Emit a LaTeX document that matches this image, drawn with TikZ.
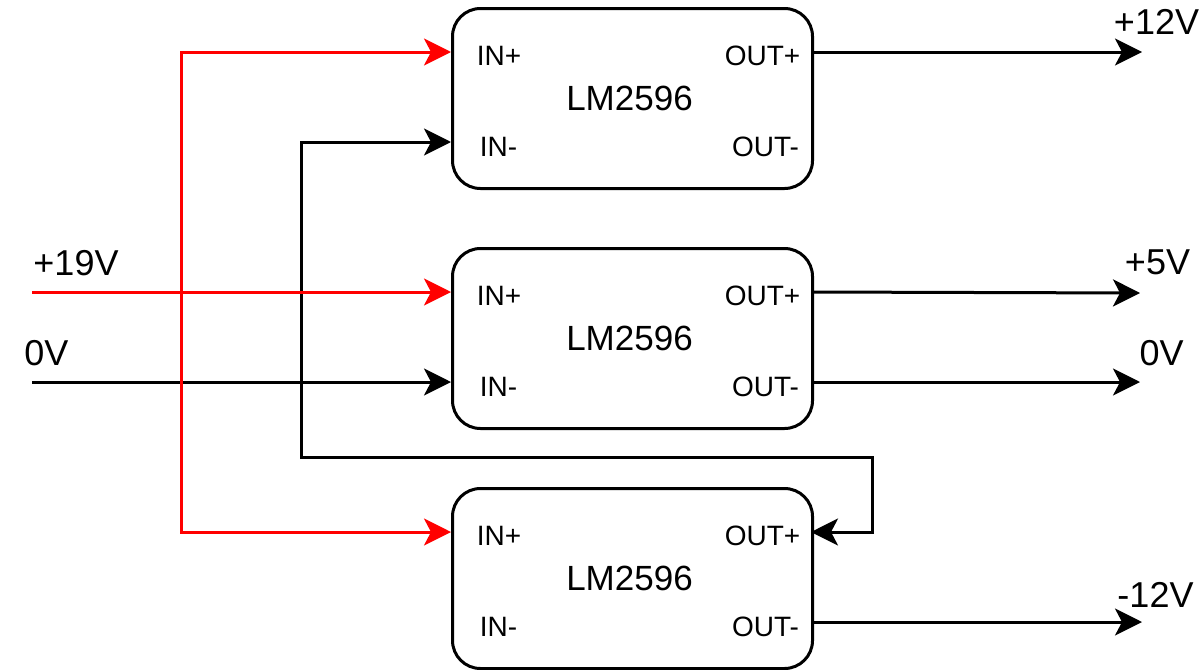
\documentclass[tikz,border=0pt]{standalone}
\usepackage{fontspec}
\setmainfont{Liberation Sans}
\usetikzlibrary{arrows.meta,positioning}

\begin{document}
\begin{tikzpicture}[
			x=0.5pt, y=-0.5pt,
			>={Stealth[length=13.5pt,width=13.5pt,inset=3.5pt]},
			wire/.style={line width=1.5pt, ->},
			hotwire/.style={wire, draw=red, color=red},
			module/.style={draw, line width=1.5pt, rounded corners=14pt, minimum width=180pt, minimum height=90pt, inner sep=0pt, anchor=north west},
			port/.style={font={\fontsize{14}{16}\selectfont}, inner sep=0pt, anchor=base},
			chip/.style={font={\fontsize{17.5}{20}\selectfont}, inner sep=0pt, anchor=base},
			rail/.style={font={\fontsize{18}{21}\selectfont}, inner sep=0pt, anchor=base}
	]
	\useasboundingbox (0,0) rectangle (1203,669);

	% three regulators
	\foreach \i/\t in {1/7, 2/247, 3/487} {
		\node[module] (b\i) at (451,\t) {};
		\node[chip] (lm\i) at (629.5,\t+103) {LM2596};
		\node[port] (inp\i) at (499,\t+58.7) {IN+};
		\node[port] (inn\i) at (498.5,\t+149) {IN-};
		\node[port] (outp\i) at (762.5,\t+58.7) {OUT+};
		\node[port] (outn\i) at (765.5,\t+149) {OUT-};
		\coordinate (b\i-inp) at (451,\t+45);
		\coordinate (b\i-inn) at (451,\t+135);
		\coordinate (b\i-outp) at (811,\t+45);
		\coordinate (b\i-outn) at (811,\t+135);
	}

	% supply side
	\node[rail] (v19) at (76,275) {+19V};
	\node[rail] (gnd) at (46.5,365) {0V};
	\coordinate (in19) at (32,292);
	\coordinate (in0) at (32,382);
	\coordinate (j19) at (181,292);
	\coordinate (j0) at (301,382);
	\coordinate (turn) at (872,457);

	\draw[wire] (in0) -- (b2-inn);
	\draw[wire] (j0) |- (b1-inn);
	\draw[wire] (j0) |- (turn) |- (b3-outp);
	\draw[hotwire] (in19) -- (b2-inp);
	\draw[hotwire] (j19) |- (b1-inp);
	\draw[hotwire] (j19) |- (b3-inp);

	% outputs
	\coordinate (o12) at (1142,52);
	\coordinate (o5) at (1140,293);
	\coordinate (o0) at (1140,382);
	\coordinate (om12) at (1142,622);
	\draw[wire] (b1-outp) -- (o12);
	\draw[wire] (b2-outp) -- (o5);
	\draw[wire] (b2-outn) -- (o0);
	\draw[wire] (b3-outn) -- (om12);
	\node[rail] (l12) at (1156.5,34.3) {+12V};
	\node[rail] (l5) at (1157.5,274) {+5V};
	\node[rail] (l0) at (1161.5,365) {0V};
	\node[rail] (lm12) at (1155.5,607) {-12V};
\end{tikzpicture}
\end{document}
